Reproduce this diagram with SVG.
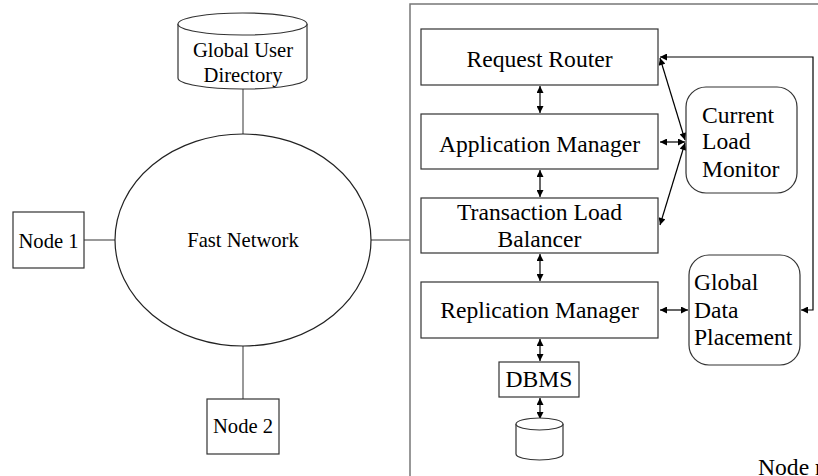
<svg xmlns="http://www.w3.org/2000/svg" width="818" height="476" viewBox="0 0 818 476">
<style>
text{font-family:"Liberation Serif","Times New Roman",serif;font-size:23.6px;fill:#000}
.s{font-size:20.6px}
.c{text-anchor:middle}
.box{fill:#fff;stroke:#333;stroke-width:1.2}
.gray{fill:none;stroke:#777;stroke-width:1.5}
.ar{fill:none;stroke:#000;stroke-width:1.2}
</style>
<defs>
<marker id="ah" viewBox="0 0 10 10" refX="10" refY="5" markerWidth="8" markerHeight="7" markerUnits="userSpaceOnUse" orient="auto-start-reverse">
<path d="M0,0 L10,5 L0,10 z" fill="#000"/>
</marker>
</defs>
<rect width="818" height="476" fill="#fff"/>
<g id="frame"><rect x="410" y="4" width="430" height="490" class="gray"/></g>
<g id="connectors">
<line x1="243" y1="89" x2="243" y2="134" class="gray"/>
<line x1="84" y1="240" x2="115" y2="240" class="gray"/>
<line x1="243" y1="346" x2="243" y2="399" class="gray"/>
<line x1="371" y1="240" x2="410" y2="240" class="gray"/>
<g class="ar" marker-start="url(#ah)" marker-end="url(#ah)">
<line x1="540" y1="86" x2="540" y2="113"/>
<line x1="540" y1="170" x2="540" y2="197"/>
<line x1="540" y1="254" x2="540" y2="281"/>
<line x1="540" y1="339" x2="540" y2="361"/>
<line x1="540" y1="398" x2="540" y2="419"/>
<line x1="660" y1="142" x2="685" y2="142"/>
<line x1="660" y1="310" x2="688" y2="310"/>
<line x1="660" y1="58" x2="685" y2="140"/>
<line x1="685" y1="143" x2="660" y2="225"/>
<polyline points="660,57 813,57 813,310 801,310"/>
</g>
</g>
<g id="gud">
<path d="M178,24 L178,78 A64.5,11 0 0 0 307,78 L307,24" class="box"/>
<ellipse cx="242.5" cy="24" rx="64.5" ry="11" class="box"/>
<text x="243" y="57" class="c s">Global User</text>
<text x="243" y="82" class="c s">Directory</text>
</g>
<g id="fast-network">
<ellipse cx="243" cy="240" rx="128" ry="106" fill="#fff" stroke="#222" stroke-width="1.2"/>
<text x="243" y="247" class="c s">Fast Network</text>
</g>
<g id="node1"><rect x="13" y="212" width="71" height="56" class="box"/><text x="48.5" y="248" class="c s">Node 1</text></g>
<g id="node2"><rect x="207" y="399" width="72" height="55" class="box"/><text x="243" y="433" class="c s">Node 2</text></g>
<g id="request-router"><rect x="421" y="29" width="237" height="56" class="box"/><text x="539.5" y="67" class="c">Request Router</text></g>
<g id="application-manager"><rect x="421" y="114" width="237" height="55" class="box"/><text x="539.5" y="152" class="c">Application Manager</text></g>
<g id="tlb"><rect x="421" y="198" width="237" height="55" class="box"/><text x="539.5" y="220" class="c">Transaction Load</text><text x="539.5" y="247" class="c">Balancer</text></g>
<g id="replication-manager"><rect x="421" y="282" width="237" height="56" class="box"/><text x="539.5" y="318" class="c">Replication Manager</text></g>
<g id="dbms"><rect x="499" y="362" width="80" height="35" class="box"/><text x="539" y="387" class="c">DBMS</text></g>
<g id="db">
<path d="M516,424 L516,454 A23.5,6 0 0 0 563,454 L563,424" class="box"/>
<ellipse cx="539.5" cy="424" rx="23.5" ry="6" class="box"/>
</g>
<g id="clm"><rect x="686" y="87" width="111" height="106" rx="20" class="box"/><text x="702" y="123">Current</text><text x="702" y="149">Load</text><text x="702" y="177">Monitor</text></g>
<g id="gdp"><rect x="689" y="255" width="111" height="110" rx="20" class="box"/><text x="694" y="290">Global</text><text x="694" y="318">Data</text><text x="694" y="345">Placement</text></g>
<g id="node-n-label"><text x="758" y="475">Node n</text></g>
</svg>
